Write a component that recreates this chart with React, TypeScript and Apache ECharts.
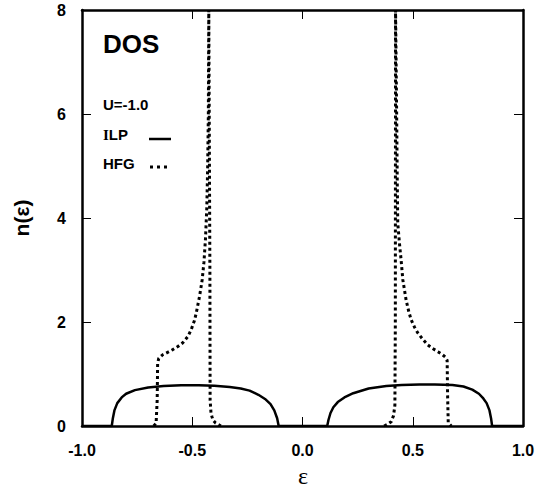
import React, { useEffect, useRef } from "react";
import * as echarts from "echarts";

// ILP (solid) density of states
const ilpLeftEps = [-1.0, -0.865, -0.86, -0.853, -0.84, -0.82, -0.8, -0.76, -0.7, -0.63, -0.55, -0.47, -0.4, -0.33, -0.28, -0.24, -0.2, -0.17, -0.145, -0.128, -0.115, -0.108, 0.0];
const ilpLeftN = [0, 0, 0.15, 0.3, 0.44, 0.55, 0.62, 0.69, 0.74, 0.77, 0.785, 0.785, 0.775, 0.75, 0.72, 0.68, 0.6, 0.52, 0.42, 0.3, 0.15, 0, 0];
const ilpRightEps = [0.0, 0.112, 0.118, 0.127, 0.14, 0.16, 0.19, 0.23, 0.3, 0.38, 0.45, 0.53, 0.6, 0.68, 0.73, 0.77, 0.8, 0.82, 0.835, 0.848, 0.855, 0.86, 1.0];
const ilpRightN = [0, 0, 0.12, 0.25, 0.36, 0.46, 0.55, 0.63, 0.72, 0.77, 0.79, 0.8, 0.8, 0.79, 0.76, 0.7, 0.62, 0.53, 0.44, 0.3, 0.15, 0, 0];

// HFG (dotted) density of states
const hfgLeftEps = [-0.675, -0.664, -0.659, -0.657, -0.652, -0.634, -0.61, -0.588, -0.565, -0.543, -0.52, -0.505, -0.49, -0.482, -0.467, -0.455, -0.447, -0.44, -0.434, -0.43, -0.427, -0.425, -0.422, -0.42, -0.419, -0.415, -0.41, -0.406, -0.395, -0.383, -0.37];
const hfgLeftN = [0, 0.05, 0.5, 1.2, 1.3, 1.37, 1.42, 1.47, 1.53, 1.6, 1.72, 1.85, 2.03, 2.17, 2.49, 2.81, 3.15, 3.6, 4.2, 5.0, 6.0, 8, 8, 3, 0.5, 0.25, 0.17, 0.115, 0.06, 0.03, 0];
const hfgRightEps = [0.37, 0.385, 0.402, 0.413, 0.419, 0.421, 0.422, 0.425, 0.427, 0.43, 0.432, 0.44, 0.447, 0.455, 0.47, 0.482, 0.493, 0.508, 0.523, 0.545, 0.568, 0.59, 0.614, 0.635, 0.649, 0.656, 0.658, 0.661, 0.675];
const hfgRightN = [0, 0.03, 0.08, 0.2, 0.4, 2, 8, 8, 6, 4.6, 3.9, 3.5, 3.2, 2.81, 2.42, 2.2, 2.04, 1.9, 1.79, 1.67, 1.56, 1.49, 1.43, 1.37, 1.32, 1.26, 0.6, 0.06, 0];

const xMin = -1.0, xMax = 1.0, xStep = 0.5;
const yMin = 0, yMax = 8, yStep = 2;

const pairs = (xs: number[], ys: number[]) => xs.map((x, i) => [x, ys[i]]);

const FONT = "Liberation Sans, Arial, Helvetica, sans-serif";
const SERIF = "Liberation Serif, DejaVu Serif, serif";

export default function App() {
  const ref = useRef<HTMLDivElement>(null);
  useEffect(() => {
    if (!ref.current) return;
    const chart = echarts.init(ref.current, undefined, { renderer: "svg" });
    const axisLine = { show: true, onZero: false, lineStyle: { color: "#000", width: 2.5 } };
    const tick = { show: true, inside: true, length: 9, lineStyle: { color: "#000", width: 1 } };
    const label = { color: "#000", fontFamily: FONT, fontWeight: "bold" as const, fontSize: 16 };
    const solid = { color: "#000", width: 2.5, type: "solid" as const };
    const dotted = { color: "#000", width: 3, type: [3, 3] as any, cap: "butt" as const };
    chart.setOption({
      animation: false,
      backgroundColor: "#fff",
      grid: { left: 82, right: 17, top: 10, bottom: 65, containLabel: false },
      xAxis: [
        {
          type: "value", min: xMin, max: xMax, interval: xStep, position: "bottom",
          axisLine, axisTick: tick, splitLine: { show: false },
          axisLabel: { ...label, margin: 16, formatter: (v: number) => v.toFixed(1) },
        },
        {
          type: "value", min: xMin, max: xMax, interval: xStep, position: "top",
          axisLine, axisTick: tick, splitLine: { show: false }, axisLabel: { show: false },
        },
      ],
      yAxis: [
        {
          type: "value", min: yMin, max: yMax, interval: yStep, position: "left",
          axisLine, axisTick: tick, splitLine: { show: false },
          axisLabel: { ...label, margin: 16 },
        },
        {
          type: "value", min: yMin, max: yMax, interval: yStep, position: "right",
          axisLine, axisTick: tick, splitLine: { show: false }, axisLabel: { show: false },
        },
      ],
      series: [
        { type: "line", name: "ILP", data: pairs(ilpLeftEps, ilpLeftN), showSymbol: false, lineStyle: solid, clip: true },
        { type: "line", name: "ILP", data: pairs(ilpRightEps, ilpRightN), showSymbol: false, lineStyle: solid, clip: true },
        { type: "line", name: "HFG", data: pairs(hfgLeftEps, hfgLeftN), showSymbol: false, lineStyle: dotted, clip: true },
        { type: "line", name: "HFG", data: pairs(hfgRightEps, hfgRightN), showSymbol: false, lineStyle: dotted, clip: true },
      ],
      graphic: [
        { type: "text", left: 103, top: 31, style: { text: "DOS", fontFamily: FONT, fontWeight: "bold", fontSize: 26, fill: "#000" } },
        { type: "text", left: 103, top: 97, style: { text: "U=-1.0", fontFamily: FONT, fontWeight: "bold", fontSize: 15, fill: "#000" } },
        {
          type: "text", left: 103, top: 127,
          style: {
            text: "{s|I}LP", fontFamily: FONT, fontWeight: "bold", fontSize: 15, fill: "#000",
            rich: { s: { fontFamily: SERIF, fontWeight: "bold", fontSize: 15, fill: "#000" } },
          },
        },
        { type: "text", left: 103, top: 156, style: { text: "HFG", fontFamily: FONT, fontWeight: "bold", fontSize: 15, fill: "#000" } },
        { type: "line", shape: { x1: 149, y1: 139, x2: 171, y2: 139 }, style: { stroke: "#000", lineWidth: 2.5 } },
        { type: "line", shape: { x1: 150, y1: 167, x2: 170, y2: 167 }, style: { stroke: "#000", lineWidth: 3, lineDash: [3, 4] } },
        { type: "text", x: 303, y: 476, style: { text: "ε", fontFamily: SERIF, fontSize: 24, fill: "#000", align: "center", verticalAlign: "middle" } },
        { type: "text", x: 21, y: 218, rotation: Math.PI / 2, style: { text: "n(ε)", fontFamily: FONT, fontWeight: "bold", fontSize: 21, fill: "#000", align: "center", verticalAlign: "middle" } },
      ],
    });
    return () => chart.dispose();
  }, []);
  return <div ref={ref} style={{ position: "fixed", left: 0, top: 0, width: 540, height: 491, background: "#fff" }} />;
}
